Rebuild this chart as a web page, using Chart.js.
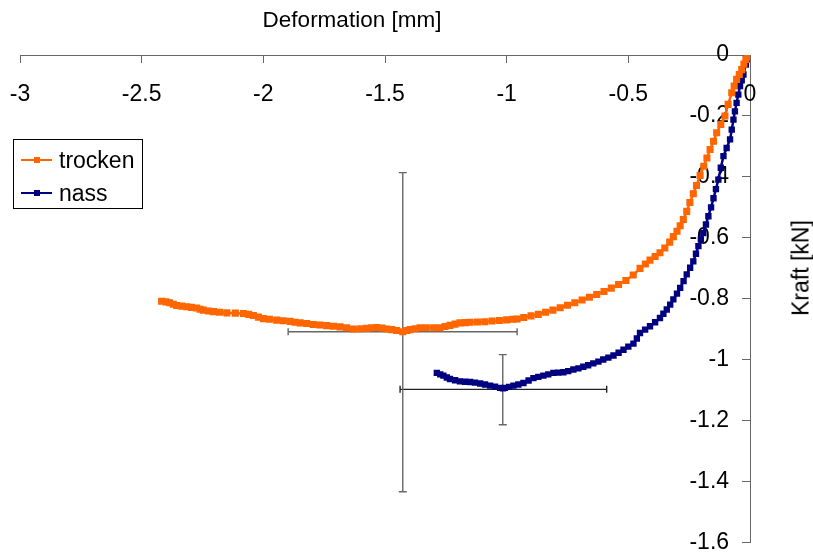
<!DOCTYPE html>
<html>
<head>
<meta charset="utf-8">
<title>Kraft / Deformation</title>
<script src="https://cdn.jsdelivr.net/npm/chart.js@4.4.0/dist/chart.umd.min.js"></script>
<style>
    html, body { margin: 0; padding: 0; background: #fff; }
    #wrap { position: relative; width: 813px; height: 553px; font-family: "Liberation Sans", Arial, sans-serif; color: #000; }
    #chart { position: absolute; left: 0; top: 0; }
    #xTitle { position: absolute; left: 352px; top: 20px; transform: translate(-50%, -50%); font-size: 22.5px; white-space: nowrap; }
    #yTitle { position: absolute; left: 801px; top: 268px; transform: translate(-50%, -50%) rotate(-90deg); font-size: 23px; white-space: nowrap; }
    #legend { position: absolute; left: 13px; top: 139px; width: 130px; height: 70px; border: 1px solid #000; box-sizing: border-box; }
    .legend-item { position: absolute; left: 0; height: 30px; width: 128px; }
    .legend-line { position: absolute; left: 7px; top: 14px; width: 31px; height: 2px; }
    .legend-mark { position: absolute; left: 20px; top: 12px; width: 6px; height: 6px; }
    .legend-text { position: absolute; left: 45px; top: 0; line-height: 30px; font-size: 23px; }
</style>
</head>
<body>
<div id="wrap">
    <canvas id="chart" width="813" height="553"></canvas>
    <div id="xTitle">Deformation [mm]</div>
    <div id="yTitle">Kraft [kN]</div>
    <div id="legend"></div>
</div>
<script>
// Series names and colours
const seriesNames = ['trocken', 'nass'];
const seriesColors = ['#FF6600', '#000080'];

// Axis ticks
const xTickValues = [-3, -2.5, -2, -1.5, -1, -0.5, 0];
const yTickValues = [0, -0.2, -0.4, -0.6, -0.8, -1, -1.2, -1.4, -1.6];

// trocken: Deformation [mm] / Kraft [kN]
const trockenX = [-2.418, -2.40, -2.385, -2.37, -2.356, -2.335, -2.315, -2.295, -2.274, -2.26,
    -2.247, -2.225, -2.205, -2.18, -2.15, -2.115, -2.082, -2.06, -2.041, -2.02,
    -2.0, -1.975, -1.945, -1.918, -1.89, -1.87, -1.849, -1.822, -1.795, -1.768,
    -1.74, -1.712, -1.685, -1.658, -1.63, -1.60, -1.575, -1.555, -1.534, -1.513,
    -1.493, -1.472, -1.452, -1.427, -1.41, -1.397, -1.376, -1.356, -1.33, -1.30,
    -1.274, -1.253, -1.233, -1.212, -1.192, -1.17, -1.15, -1.12, -1.09, -1.06,
    -1.03, -1.00, -0.975, -0.957, -0.93, -0.90, -0.87, -0.84, -0.81, -0.78,
    -0.75, -0.72, -0.69, -0.66, -0.63, -0.60, -0.57, -0.54, -0.51, -0.48,
    -0.452, -0.43, -0.411, -0.39, -0.37, -0.35, -0.33, -0.315, -0.30, -0.287,
    -0.274, -0.26, -0.247, -0.233, -0.22, -0.205, -0.19, -0.177, -0.164, -0.15,
    -0.137, -0.12, -0.103, -0.09, -0.075, -0.065, -0.055, -0.044, -0.034, -0.025,
    -0.017, -0.008, 0];
const trockenY = [-0.808, -0.810, -0.813, -0.818, -0.822, -0.824, -0.826, -0.828, -0.830, -0.834,
    -0.837, -0.840, -0.842, -0.844, -0.846, -0.847, -0.848, -0.851, -0.855, -0.860,
    -0.865, -0.867, -0.870, -0.872, -0.874, -0.877, -0.879, -0.881, -0.884, -0.886,
    -0.888, -0.890, -0.892, -0.895, -0.899, -0.898, -0.897, -0.895, -0.894, -0.896,
    -0.899, -0.901, -0.904, -0.908, -0.904, -0.901, -0.898, -0.895, -0.895, -0.895,
    -0.895, -0.891, -0.887, -0.883, -0.879, -0.878, -0.877, -0.876, -0.875, -0.873,
    -0.871, -0.869, -0.867, -0.866, -0.861, -0.856, -0.851, -0.844, -0.837, -0.829,
    -0.821, -0.813, -0.804, -0.795, -0.786, -0.776, -0.765, -0.753, -0.740, -0.722,
    -0.700, -0.686, -0.673, -0.661, -0.649, -0.633, -0.614, -0.596, -0.578, -0.560,
    -0.540, -0.513, -0.484, -0.455, -0.428, -0.395, -0.365, -0.338, -0.310, -0.283,
    -0.255, -0.228, -0.200, -0.162, -0.124, -0.102, -0.080, -0.064, -0.048, -0.030,
    -0.015, -0.006, 0];

// nass: Deformation [mm] / Kraft [kN]
const nassX = [-1.287, -1.273, -1.260, -1.246, -1.233, -1.212, -1.192, -1.171, -1.150, -1.130,
    -1.109, -1.089, -1.068, -1.048, -1.027, -1.015, -1.007, -0.99, -0.972, -0.952,
    -0.931, -0.91, -0.890, -0.87, -0.849, -0.829, -0.808, -0.788, -0.767, -0.747,
    -0.726, -0.705, -0.685, -0.665, -0.644, -0.623, -0.603, -0.582, -0.561, -0.54,
    -0.520, -0.50, -0.479, -0.465, -0.452, -0.431, -0.411, -0.39, -0.370, -0.356,
    -0.342, -0.328, -0.315, -0.30, -0.287, -0.273, -0.260, -0.246, -0.233, -0.222,
    -0.212, -0.202, -0.192, -0.181, -0.171, -0.160, -0.150, -0.140, -0.130, -0.120,
    -0.109, -0.096, -0.082, -0.075, -0.068, -0.062, -0.055, -0.048, -0.041, -0.034,
    -0.027, -0.017, -0.008, 0];
const nassY = [-1.043, -1.048, -1.052, -1.058, -1.063, -1.067, -1.071, -1.072, -1.073, -1.075,
    -1.078, -1.081, -1.085, -1.088, -1.092, -1.094, -1.092, -1.089, -1.085, -1.081,
    -1.076, -1.068, -1.060, -1.056, -1.052, -1.048, -1.043, -1.042, -1.041, -1.037,
    -1.032, -1.028, -1.023, -1.018, -1.012, -1.006, -0.999, -0.993, -0.986, -0.977,
    -0.967, -0.957, -0.947, -0.930, -0.912, -0.901, -0.890, -0.877, -0.863, -0.849,
    -0.835, -0.819, -0.802, -0.783, -0.764, -0.742, -0.720, -0.698, -0.677, -0.652,
    -0.627, -0.605, -0.584, -0.556, -0.529, -0.500, -0.470, -0.440, -0.409, -0.370,
    -0.332, -0.305, -0.277, -0.245, -0.212, -0.185, -0.157, -0.130, -0.102, -0.083,
    -0.064, -0.031, -0.014, 0];

// Error bars (mean and range) for trocken, nass
const errMeanX = [-1.427, -1.016];
const errMeanY = [-0.908, -1.097];
const errLowX = [-1.898, -1.438];
const errHighX = [-0.957, -0.589];
const errLowY = [-1.433, -1.213];
const errHighY = [-0.386, -0.983];

const FONT = 'Liberation Sans, Arial, sans-serif';
const AXIS_COLOR = '#666666';
const TICK_FONT = { family: FONT, size: 23, lineHeight: 0.9 };

// where the label rows sit, relative to the crossing axes
const X_LABEL_ROW = { y: -0.071 };
const Y_LABEL_COL = { x: -0.086 };

function toPoints(xs, ys) {
    return xs.map((x, i) => ({ x: x, y: ys[i] }));
}

// series datasets
const seriesDatasets = [
    { label: seriesNames[0], data: toPoints(trockenX, trockenY), radius: 5 },
    { label: seriesNames[1], data: toPoints(nassX, nassY), radius: 4.5 }
].map((d, i) => ({
    label: d.label,
    data: d.data,
    showLine: true,
    borderColor: seriesColors[i],
    backgroundColor: seriesColors[i],
    borderWidth: 2.5,
    pointStyle: 'rect',
    pointRadius: d.radius,
    pointBorderWidth: 0,
    pointBackgroundColor: seriesColors[i],
    tension: 0
}));

// error bar datasets (drawn beneath the series)
const errorDatasets = [];
errMeanX.forEach((mx, i) => {
    errorDatasets.push({
        label: 'errY' + i,
        data: [{ x: mx, y: errLowY[i] }, { x: mx, y: errHighY[i] }],
        showLine: true,
        borderColor: '#666666',
        borderWidth: 1.4,
        pointStyle: 'line',
        pointRadius: 4,
        pointRotation: 0,
        pointBorderColor: '#666666',
        pointBorderWidth: 1.4
    });
    errorDatasets.push({
        label: 'errX' + i,
        data: [{ x: errLowX[i], y: errMeanY[i] }, { x: errHighX[i], y: errMeanY[i] }],
        showLine: true,
        borderColor: i === 0 ? '#666666' : '#222222',
        borderWidth: 1.4,
        pointStyle: 'line',
        pointRadius: 3.5,
        pointRotation: 90,
        pointBorderColor: i === 0 ? '#666666' : '#222222',
        pointBorderWidth: 1.4
    });
});

function renderLegend() {
    const legend = document.getElementById('legend');
    legend.innerHTML = '';
    seriesNames.forEach((name, i) => {
        const item = document.createElement('div');
        item.className = 'legend-item';
        item.style.top = (5 + i * 33) + 'px';
        item.innerHTML = `
            <div class="legend-line" style="background:${seriesColors[i]}"></div>
            <div class="legend-mark" style="background:${seriesColors[i]}"></div>
            <div class="legend-text">${name}</div>
        `;
        legend.appendChild(item);
    });
}

const setTicks = values => scale => { scale.ticks = values.map(v => ({ value: v })); };
const plainLabel = value => String(value);

const ctx = document.getElementById('chart').getContext('2d');
const chart = new Chart(ctx, {
    type: 'scatter',
    data: { datasets: seriesDatasets.concat(errorDatasets) },
    options: {
        responsive: false,
        animation: false,
        devicePixelRatio: 1,
        layout: { padding: { left: 20, right: 63, top: 55, bottom: 10 } },
        plugins: {
            legend: { display: false },
            tooltip: { enabled: false },
            title: { display: false }
        },
        scales: {
            // axis lines + tick marks, crossing at 0/0
            x: {
                type: 'linear',
                position: { y: 0 },
                min: -3,
                max: 0,
                afterBuildTicks: setTicks(xTickValues),
                grid: { drawOnChartArea: false, drawTicks: true, tickLength: 7, color: AXIS_COLOR },
                border: { color: AXIS_COLOR, width: 1 },
                ticks: { display: false }
            },
            y: {
                type: 'linear',
                position: { x: 0 },
                min: -1.6,
                max: 0,
                afterBuildTicks: setTicks(yTickValues),
                grid: { drawOnChartArea: false, drawTicks: true, tickLength: 8, color: AXIS_COLOR },
                border: { color: AXIS_COLOR, width: 1 },
                ticks: { display: false }
            },
            // tick labels, set a little off the axis lines
            xLabels: {
                type: 'linear',
                axis: 'x',
                position: X_LABEL_ROW,
                min: -3,
                max: 0,
                afterBuildTicks: setTicks(xTickValues),
                grid: { display: false },
                border: { display: false },
                ticks: { font: TICK_FONT, color: '#000', padding: 0, maxRotation: 0, autoSkip: false, callback: plainLabel }
            },
            yLabels: {
                type: 'linear',
                axis: 'y',
                position: Y_LABEL_COL,
                min: -1.6,
                max: 0,
                afterBuildTicks: setTicks(yTickValues),
                grid: { display: false },
                border: { display: false },
                ticks: { font: TICK_FONT, color: '#000', padding: 0, autoSkip: false, callback: plainLabel }
            }
        }
    }
});

renderLegend();
</script>
</body>
</html>
